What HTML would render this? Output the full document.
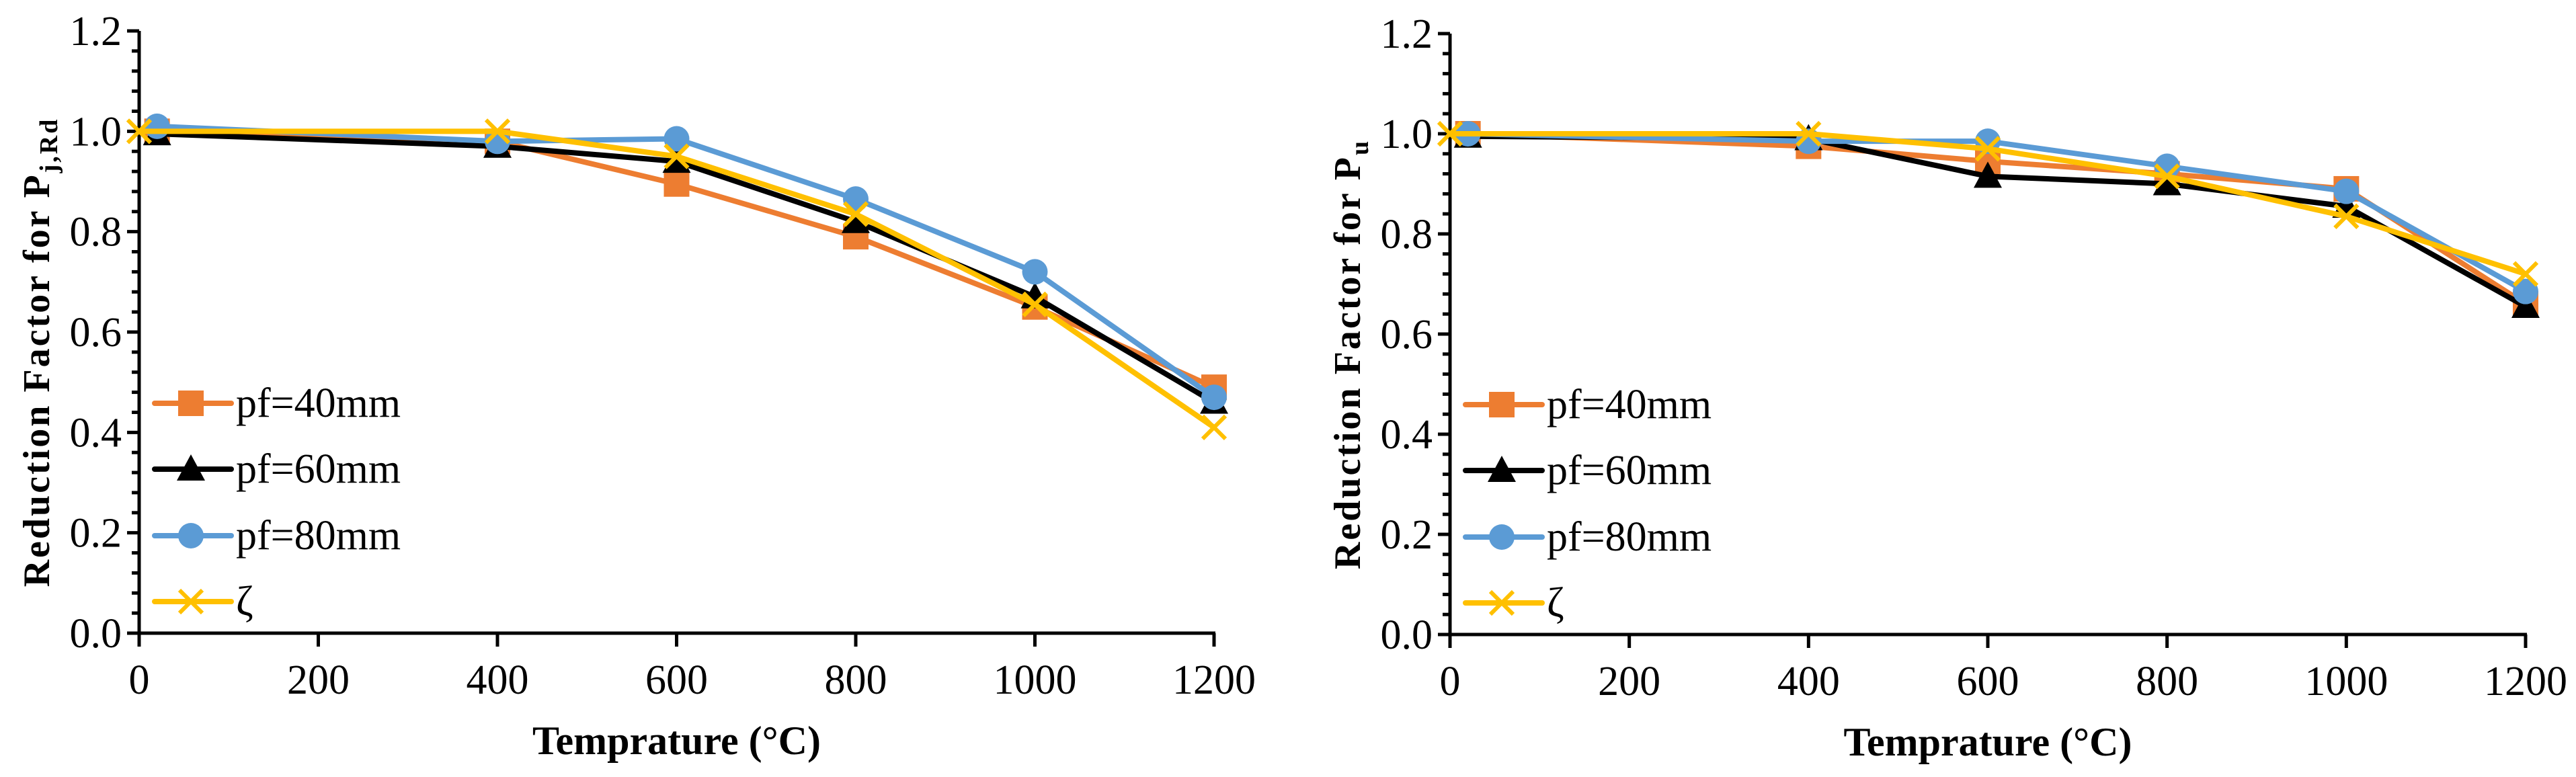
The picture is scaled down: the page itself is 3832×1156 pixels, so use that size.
<!DOCTYPE html>
<html><head><meta charset="utf-8"><style>
html,body{margin:0;padding:0;background:#fff;}
svg{display:block;font-family:"Liberation Serif","DejaVu Serif",serif;}
</style></head><body>
<svg id="chart" width="3832" height="1156" viewBox="0 0 3832 1156" xmlns="http://www.w3.org/2000/svg"></svg>
<script>
const temps = [20, 400, 600, 800, 1000, 1200];
const zetaTemps = [0, 400, 600, 800, 1000, 1200];
const leftPf40 = [1.0, 0.98, 0.895, 0.79, 0.65, 0.49];
const leftPf60 = [0.995, 0.97, 0.94, 0.82, 0.67, 0.46];
const leftPf80 = [1.01, 0.98, 0.985, 0.865, 0.72, 0.47];
const leftZeta = [1.0, 1.0, 0.95, 0.835, 0.655, 0.41];
const rightPf40 = [1.0, 0.975, 0.945, 0.92, 0.89, 0.66];
const rightPf60 = [0.995, 0.99, 0.915, 0.90, 0.855, 0.655];
const rightPf80 = [1.0, 0.985, 0.985, 0.935, 0.885, 0.685];
const rightZeta = [1.0, 1.0, 0.97, 0.915, 0.835, 0.72];
const xTicks = [0, 200, 400, 600, 800, 1000, 1200];
const yTicks = [0.0, 0.2, 0.4, 0.6, 0.8, 1.0, 1.2];
const seriesNames = ["pf=40mm", "pf=60mm", "pf=80mm", "ζ"];

const NS = "http://www.w3.org/2000/svg";
const svg = document.getElementById("chart");
function mk(tag, attrs, parent) {
  const e = document.createElementNS(NS, tag);
  for (const k in attrs) e.setAttribute(k, attrs[k]);
  (parent || svg).appendChild(e);
  return e;
}
const colors = ["#ED7D31", "#000000", "#5B9BD5", "#FFC000"];
const markers = ["square", "triangle", "circle", "x"];

function drawMarker(g, type, cx, cy, color) {
  let m;
  if (type === "square") m = mk("rect", {x: cx - 19, y: cy - 19, width: 38, height: 38, fill: color}, g);
  else if (type === "triangle") m = mk("polygon", {points: `${cx},${cy - 22} ${cx - 21},${cy + 17} ${cx + 21},${cy + 17}`, fill: color}, g);
  else if (type === "circle") m = mk("ellipse", {cx: cx, cy: cy, rx: 19, ry: 19, fill: color}, g);
  else m = mk("path", {d: `M${cx - 17},${cy - 17}L${cx + 17},${cy + 17}M${cx + 17},${cy - 17}L${cx - 17},${cy + 17}`, stroke: color, "stroke-width": 6, fill: "none"}, g);
  
  
}

function panel(id, X0, X1, Y0, Y1, data, sub) {
  const g = mk("g", {});
  
  
  const sx = v => X0 + (v / 1200) * (X1 - X0);
  const sy = v => Y0 - (v / 1.2) * (Y0 - Y1);
  for (let i = 0; i <= 30; i++) {
    const v = i * 0.04, y = sy(v), major = i % 5 === 0;
    const t = mk("line", {x1: X0 - (major ? 18 : 11), x2: X0, y1: y, y2: y, stroke: "#000", "stroke-width": 5}, g);
    
    
  }
  yTicks.forEach(v => {
    const t = mk("text", {x: X0 - 26, y: sy(v) + 21, "text-anchor": "end", "font-size": 62}, g);
    t.textContent = v.toFixed(1);
    
    
  });
  xTicks.forEach(v => {
    const x = sx(v);
    const t = mk("line", {x1: x, x2: x, y1: Y0, y2: Y0 + 20, stroke: "#000", "stroke-width": 5}, g);
    
    
    const l = mk("text", {x: x, y: Y0 + 90, "text-anchor": "middle", "font-size": 62}, g);
    l.textContent = v;
    
    
  });
  const ax = mk("path", {d: `M${X0},${Y1}L${X0},${Y0}L${X1 + 2},${Y0}`, stroke: "#000", "stroke-width": 5, fill: "none"}, g);
  
  
  data.forEach((vals, si) => {
    const xs = si === 3 ? zetaTemps : temps;
    const sg = mk("g", {}, g);
    
    
    const pts = vals.map((v, i) => sx(xs[i]) + "," + sy(v)).join(" ");
    const pl = mk("polyline", {points: pts, stroke: colors[si], "stroke-width": 8, fill: "none", "stroke-linejoin": "round", "stroke-linecap": "round"}, sg);
    
    
    vals.forEach((v, i) => drawMarker(sg, markers[si], sx(xs[i]), sy(v), colors[si]));
  });
  const lg = mk("g", {}, g);
  
  
  const rows = [600, 698, 797, 895];
  seriesNames.forEach((n, si) => {
    const eg = mk("g", {}, lg);
    
    
    const y = rows[si] + (Y0 - 942);
    const lx = X0 + 23;
    mk("line", {x1: lx, x2: lx + 114, y1: y, y2: y, stroke: colors[si], "stroke-width": 8, "stroke-linecap": "round"}, eg);
    drawMarker(eg, markers[si], lx + 54, y, colors[si]);
    const t = mk("text", {x: lx + 121, y: y + 20, "font-size": 62}, eg);
    t.textContent = n;
  });
  const yt = mk("text", {transform: `translate(${X0 - 134},${(Y0 + Y1) / 2 + 30}) rotate(-90)`, "text-anchor": "middle", "font-size": 56, "font-weight": "bold", "letter-spacing": 3}, g);
  
  
  yt.appendChild(document.createTextNode("Reduction Factor for P"));
  const ts = mk("tspan", {"font-size": 38, dy: 12}, yt);
  ts.textContent = sub;
  const xt = mk("text", {x: (X0 + X1) / 2, y: Y0 + 180, "text-anchor": "middle", "font-size": 60, "font-weight": "bold"}, g);
  xt.textContent = "Temprature (°C)";
  
  
}
panel("left-chart", 207, 1806, 942, 46, [leftPf40, leftPf60, leftPf80, leftZeta], "j,Rd");
panel("right-chart", 2157, 3757, 944, 50, [rightPf40, rightPf60, rightPf80, rightZeta], "u");
</script>
</body></html>
